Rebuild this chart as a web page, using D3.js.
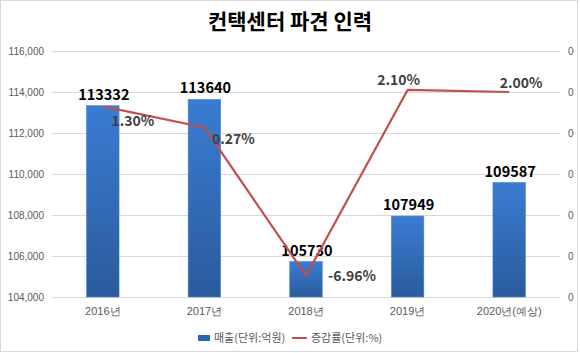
<!DOCTYPE html>
<html>
<head>
<meta charset="utf-8">
<script src="https://cdn.jsdelivr.net/npm/d3@7"></script>
<style>
  body { margin: 0; background: #fff; }
  svg { font-family: "Noto Sans CJK KR", "Noto Sans", sans-serif; }
</style>
</head>
<body>
<script>
var years = ["2016년", "2017년", "2018년", "2019년", "2020년(예상)"];
var sales = [113332, 113640, 105730, 107949, 109587];
var rates = [0.0130, 0.0027, -0.0696, 0.0210, 0.0200];
var rateLabels = ["1.30%", "0.27%", "-6.96%", "2.10%", "2.00%"];
var leftTicks = [104000, 106000, 108000, 110000, 112000, 114000, 116000];
var rightTicks = [-0.08, -0.06, -0.04, -0.02, 0, 0.02, 0.04];
// label nudges, like they were dragged in the spreadsheet
var rateOffsets = [[30, 15], [29, 12], [46, 0], [-9, -10], [12, -9]];

var width = 580, height = 353;
var margin = {left: 52, right: 20, top: 51, bottom: 56};

var svg = d3.select("body").append("svg").attr("width", width).attr("height", height);

svg.append("rect").attr("x", 0.5).attr("y", 0.5).attr("width", 577).attr("height", 351)
   .attr("fill", "#fff").attr("stroke", "#d9d9d9");

svg.append("text").attr("x", 290).attr("y", 29).attr("text-anchor", "middle")
   .attr("font-size", 21).attr("font-weight", "bold").attr("fill", "#000")
   .text("컨택센터 파견 인력");

var x = d3.scaleBand().domain(years).range([margin.left, 560]).paddingInner(0.68).paddingOuter(0.34);
var y = d3.scaleLinear().domain([104000, 116000]).range([297, margin.top]);
var y2 = d3.scaleLinear().domain([-0.08, 0.04]).range([297, margin.top]);

// grid
svg.append("g").selectAll("line").data(leftTicks).join("line")
   .attr("x1", margin.left).attr("x2", 560)
   .attr("y1", function(d){ return Math.round(y(d)) + 0.5; })
   .attr("y2", function(d){ return Math.round(y(d)) + 0.5; })
   .attr("stroke", "#d9d9d9");

var yAxis = d3.axisLeft(y).tickValues(leftTicks).tickFormat(d3.format(",")).tickSize(0).tickPadding(8);
var gy = svg.append("g").attr("transform", "translate(" + margin.left + ",0)").call(yAxis);
gy.select(".domain").remove();
gy.selectAll("text").attr("font-size", 10).attr("fill", "#595959").attr("font-family", "Liberation Sans, Arial, sans-serif");

var y2Axis = d3.axisRight(y2).tickValues(rightTicks).tickFormat(function(){ return "0"; }).tickSize(0).tickPadding(8);
var gy2 = svg.append("g").attr("transform", "translate(560,0)").call(y2Axis);
gy2.select(".domain").remove();
gy2.selectAll("text").attr("font-size", 10).attr("fill", "#595959").attr("font-family", "Liberation Sans, Arial, sans-serif");

var xAxis = d3.axisBottom(x).tickSize(0).tickPadding(10);
var gx = svg.append("g").attr("transform", "translate(0,297)").call(xAxis);
gx.select(".domain").remove();
gx.selectAll("text").attr("font-size", 11).attr("fill", "#595959");

// bar gradient
var defs = svg.append("defs");
var grad = defs.append("linearGradient").attr("id", "barGrad").attr("x1", 0).attr("y1", 0).attr("x2", 0).attr("y2", 1);
grad.append("stop").attr("offset", "0%").attr("stop-color", "#3a7cd2");
grad.append("stop").attr("offset", "100%").attr("stop-color", "#2a5b9c");

var data = years.map(function(d, i){ return {year: d, sales: sales[i], rate: rates[i], label: rateLabels[i], off: rateOffsets[i]}; });

svg.append("g").selectAll("rect").data(data).join("rect")
   .attr("x", function(d){ return x(d.year); })
   .attr("y", function(d){ return y(d.sales); })
   .attr("width", x.bandwidth())
   .attr("height", function(d){ return 297 - y(d.sales); })
   .attr("fill", "url(#barGrad)")
   .attr("stroke", "#4a86d4").attr("stroke-width", 0.6);

svg.append("g").selectAll("text").data(data).join("text")
   .attr("x", function(d){ return x(d.year) + x.bandwidth() / 2 + 1; })
   .attr("y", function(d){ return y(d.sales) - 11; })
   .attr("dy", "0.35em")
   .attr("text-anchor", "middle").attr("font-size", 14.5).attr("font-weight", "bold").attr("fill", "#000")
   .text(function(d){ return d.sales; });

var line = d3.line()
   .x(function(d){ return x(d.year) + x.bandwidth() / 2; })
   .y(function(d){ return y2(d.rate); });

svg.append("path").attr("d", line(data)).attr("fill", "none")
   .attr("stroke", "#c0504d").attr("stroke-width", 2.2).attr("stroke-linejoin", "round");

svg.append("g").selectAll("text").data(data).join("text")
   .attr("x", function(d){ return x(d.year) + x.bandwidth() / 2 + d.off[0]; })
   .attr("y", function(d){ return y2(d.rate) + d.off[1]; })
   .attr("dy", "0.35em")
   .attr("text-anchor", "middle").attr("font-size", 14).attr("font-weight", "bold").attr("fill", "#404040")
   .text(function(d){ return d.label; });

// legend
var lg = svg.append("g").attr("transform", "translate(198,338)");
lg.append("rect").attr("x", 0).attr("y", -3).attr("width", 12).attr("height", 6).attr("fill", "#2f66b0");
lg.append("text").attr("x", 16).attr("y", 0).attr("dy", "0.35em").attr("font-size", 11).attr("fill", "#595959").text("매출(단위:억원)");
lg.append("line").attr("x1", 94).attr("x2", 109).attr("y1", 0).attr("y2", 0).attr("stroke", "#c0504d").attr("stroke-width", 2);
lg.append("text").attr("x", 113).attr("y", 0).attr("dy", "0.35em").attr("font-size", 11).attr("fill", "#595959").text("증감률(단위:%)");
</script>
</body>
</html>
